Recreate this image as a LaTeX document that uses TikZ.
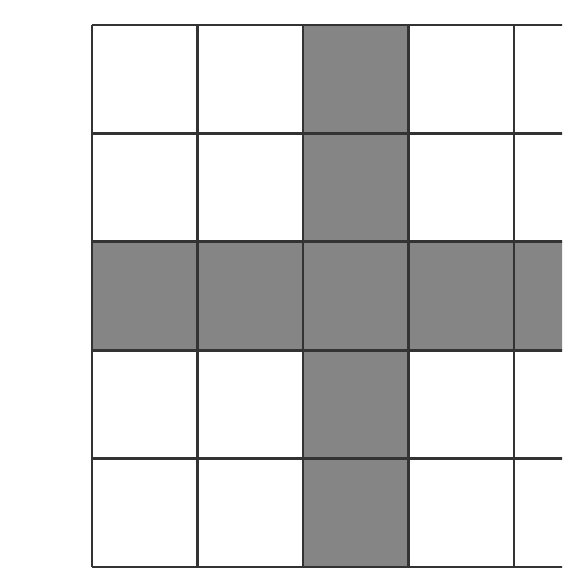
\documentclass[tikz,border=0pt]{standalone}
\usepackage{xcolor}
\usepackage{tikz}
\definecolor{cellgray}{HTML}{858585}
\definecolor{gridline}{HTML}{333333}

\begin{document}
\begin{tikzpicture}[x=0.035cm,y=-0.035cm]
  \useasboundingbox (0,0) rectangle (562,574);
  \clip (0,0) rectangle (562,574);
  % shaded cross: middle column and middle row
  \foreach \r in {0,...,4}
    \fill[cellgray] (92+2*105.5,25+\r*108.4) rectangle ++(105.5,108.4);
  \foreach \c in {0,...,4}
    \fill[cellgray] (92+\c*105.5,25+2*108.4) rectangle ++(105.5,108.4);
  % grid lines
  \foreach \c in {0,...,5}
    \draw[gridline,line width=2.8pt] (92+\c*105.5,25) -- (92+\c*105.5,567);
  \foreach \r in {0,...,5}
    \draw[gridline,line width=2.8pt] (92,25+\r*108.4) -- (620,25+\r*108.4);
\end{tikzpicture}
\end{document}
